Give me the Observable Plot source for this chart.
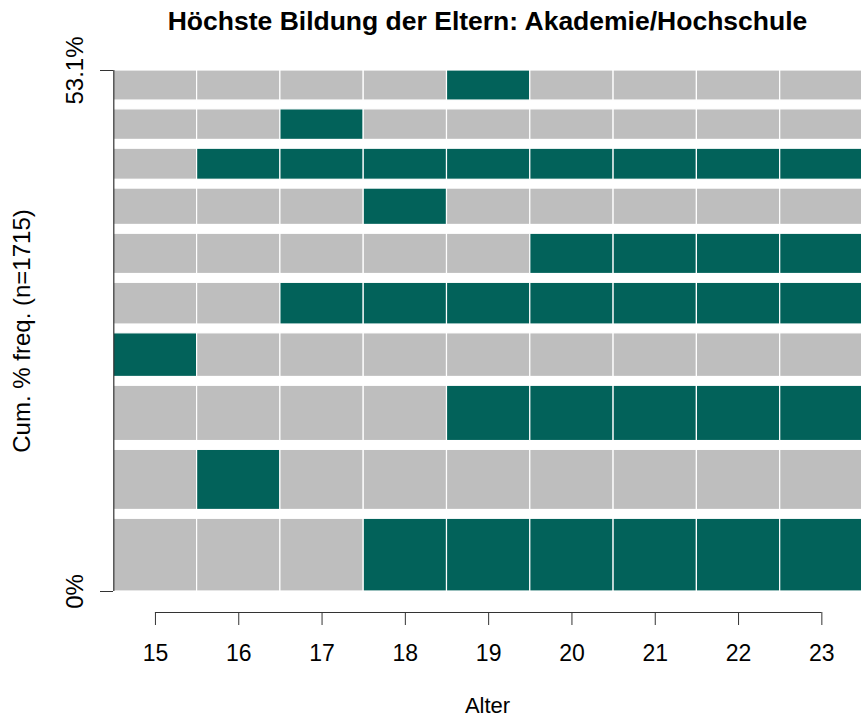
<!DOCTYPE html>
<html>
<head>
<meta charset="utf-8">
<script src="https://cdn.jsdelivr.net/npm/d3@7"></script>
<script src="https://cdn.jsdelivr.net/npm/@observablehq/plot@0.6"></script>
<style>
  body { margin: 0; background: #fff; }
  #chart svg { display: block; font-family: "Liberation Sans", Arial, Helvetica, sans-serif; }
</style>
</head>
<body>
<div id="chart"></div>
<script>
// ---- data ----
const title = "Höchste Bildung der Eltern: Akademie/Hochschule";
const xLabel = "Alter";
const n = 1715;
const ages = [15, 16, 17, 18, 19, 20, 21, 22, 23];
// sequences ordered from bottom (most frequent) to top; "0" = grey state, "1" = green state
const sequences = [
  "000111111",
  "010000000",
  "000011111",
  "100000000",
  "001111111",
  "000001111",
  "000100000",
  "011111111",
  "001000000",
  "000010000"
];
const counts = [150, 124, 114, 90, 86, 83, 75, 64, 63, 62];
const stateCodes = ["0", "1"];
const stateColors = ["#bebebe", "#02625a"];

// ---- layout of the frequency bars (barplot-style, space = 0.2 of mean bar height) ----
const freqs = counts.map(c => c / n * 100);
const meanF = d3.mean(freqs);
const space = 0.2 * meanF;
const rows = [];
let acc = 0;
freqs.forEach((f, i) => {
  rows.push({i, y1: acc, y2: acc + f, seq: sequences[i]});
  acc += f + (i < freqs.length - 1 ? space : 0);
});
const total = acc;
const cumPct = d3.sum(freqs);
const yTicks = [0, total];
const yTickLabels = ["0%", cumPct.toFixed(1) + "%"];
const yLabel = `Cum. % freq. (n=${n})`;

const cells = [];
rows.forEach(r => {
  ages.forEach((a, j) => {
    cells.push({x1: a - 0.5, x2: a + 0.5, y1: r.y1, y2: r.y2, state: r.seq[j]});
  });
});

const chart = Plot.plot({
  width: 861,
  height: 718,
  marginTop: 70,
  marginBottom: 106,
  marginLeft: 113,
  marginRight: 0,
  style: {fontFamily: '"Liberation Sans", Arial, Helvetica, sans-serif', fontSize: "20px", color: "#000", background: "#fff"},
  x: {domain: [14.5, 23.5], range: [113.3, 863]},
  y: {domain: [0, total], range: [591, 70]},
  color: {domain: stateCodes, range: stateColors},
  marks: [
    Plot.rect(cells, {x1: "x1", x2: "x2", y1: "y1", y2: "y2", fill: "state", stroke: "white", strokeWidth: 1.2}),
    // axis lines
    Plot.ruleX([14.5], {y1: 0, y2: total, stroke: "#333", strokeWidth: 1.2}),
    Plot.ruleY([0], {x1: ages[0], x2: ages[ages.length - 1], dy: 21, stroke: "#333", strokeWidth: 1.2}),
    Plot.axisX({ticks: ages, tickSize: 13, tickPadding: 19, stroke: "#333", fontSize: 23, label: null, tickFormat: d => String(d)}),
    Plot.axisY({ticks: yTicks, tickSize: 13, stroke: "#333", tickFormat: () => "", label: null}),
    Plot.text(yTicks, {y: d => d, text: (d, i) => yTickLabels[i], frameAnchor: "left", rotate: -90, dx: -38, fontSize: 24, textAnchor: "middle", lineAnchor: "middle"}),
    Plot.text([yLabel], {y: () => total / 2, text: d => d, frameAnchor: "left", rotate: -90, dx: -91, fontSize: 24, textAnchor: "middle", lineAnchor: "middle"}),
    Plot.text([xLabel], {text: d => d, frameAnchor: "bottom", dy: 93, fontSize: 22, lineAnchor: "middle"}),
    Plot.text([title], {text: d => d, frameAnchor: "top", dy: -49, fontSize: 26.5, fontWeight: "bold", lineAnchor: "middle"})
  ]
});
document.getElementById("chart").appendChild(chart);
</script>
</body>
</html>
